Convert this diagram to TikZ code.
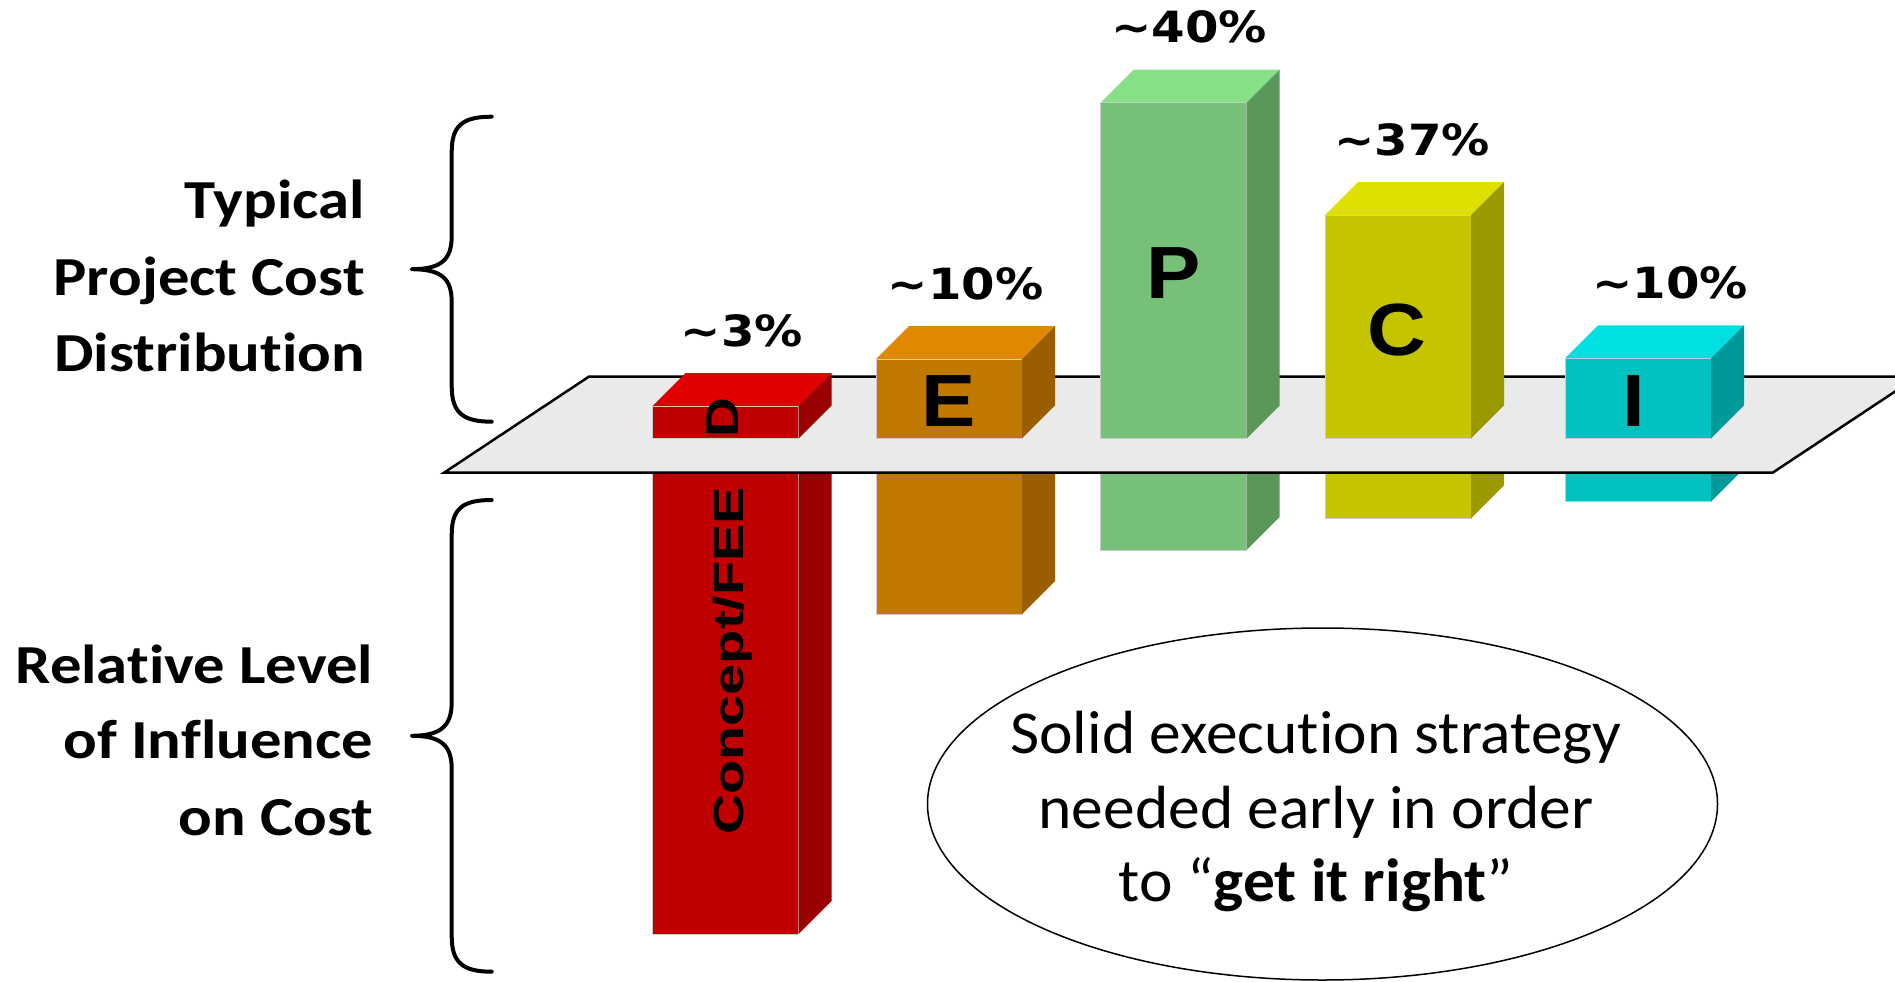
\documentclass[tikz,border=0pt]{standalone}
\usepackage{fontspec}
\usepackage{graphicx}
\usetikzlibrary{shapes.geometric}
\setmainfont{Carlito}[Ligatures=NoCommon]
\newfontfamily\arialf{Liberation Sans}
\newfontfamily\dejaf{DejaVu Sans}
\definecolor{planegray}{HTML}{EAEAEA}
\definecolor{dtop}{HTML}{E00000}\definecolor{dfront}{HTML}{C00000}\definecolor{dside}{HTML}{990000}
\definecolor{etop}{HTML}{E08800}\definecolor{efront}{HTML}{C07800}\definecolor{eside}{HTML}{9A5E00}
\definecolor{ptop}{HTML}{86E086}\definecolor{pfront}{HTML}{77C077}\definecolor{pside}{HTML}{5A985A}
\definecolor{ctop}{HTML}{E0E000}\definecolor{cfront}{HTML}{C4C400}\definecolor{cside}{HTML}{9A9A00}
\definecolor{itop}{HTML}{00E0E0}\definecolor{ifront}{HTML}{00C0C0}\definecolor{iside}{HTML}{009999}
\newcommand{\upperbox}[5]{%
  \fill[#3] (#1,#2) -- (#1+33,#2-33) -- (#1+179,#2-33) -- (#1+146,#2) -- cycle;
  \filldraw[fill=#4, draw=black!20, line width=0.8] (#1,#2) rectangle (#1+146,438.3);
  \fill[#5] (#1+146,#2) -- (#1+179,#2-33) -- (#1+179,405.3) -- (#1+146,438.3) -- cycle;
}
\newcommand{\lowerbox}[4]{%
  \filldraw[fill=#3, draw=black!20, line width=0.8] (#1,450) rectangle (#1+146,#2);
  \fill[#4] (#1+146,450) -- (#1+179,450) -- (#1+179,#2-33) -- (#1+146,#2) -- cycle;
}
\tikzset{
  pct/.style={anchor=base, inner sep=0, font=\dejaf\bfseries\fontsize{43}{50}\selectfont},
  barletter/.style={anchor=center, inner sep=0, font=\arialf\bfseries\fontsize{74}{80}\selectfont},
  sidelabel/.style={anchor=base east, inner sep=0, font=\bfseries\fontsize{55}{77}\selectfont},
  ovaltext/.style={anchor=base, inner sep=0, font=\fontsize{61}{74}\selectfont},
  bracestyle/.style={draw=black, line width=4, line cap=round, line join=round},
}
\begin{document}
\begin{tikzpicture}[x=1pt,y=-1pt]
\useasboundingbox (0,0) rectangle (1895,982);
\clip (0,0) rectangle (1895,982);
% lower parts
\lowerbox{652.7}{934}{dfront}{dside}
\lowerbox{876}{614}{efront}{eside}
\lowerbox{1100.7}{550}{pfront}{pside}
\lowerbox{1325}{518.3}{cfront}{cside}
\lowerbox{1565}{501.7}{ifront}{iside}
% plane
\filldraw[fill=planegray, draw=black, line width=2.5] (588.8,376.7) -- (444,472.7) -- (1772.6,472.7) -- (1917.4,376.7) -- cycle;
% upper parts
\upperbox{652.7}{406}{dtop}{dfront}{dside}
\upperbox{876}{359}{etop}{efront}{eside}
\upperbox{1100.7}{102.7}{ptop}{pfront}{pside}
\upperbox{1325}{215}{ctop}{cfront}{cside}
\upperbox{1565}{358.3}{itop}{ifront}{iside}
% bar letters
\node[rotate=90, anchor=base west, inner sep=0, font=\arialf\bfseries\fontsize{42}{48}\selectfont] (concept) at (743.3,835) {\scalebox{1.33}[1]{Concept/FEE}};
\node[rotate=90, anchor=base west, inner sep=0, font=\arialf\bfseries\fontsize{46}{50}\selectfont] (dletter) at (738,438) {\scalebox{1.2}[1]{D}};
\node[barletter] (eletter) at (949,401) {\scalebox{1.1}[1]{E}};
\node[barletter] (pletter) at (1173.7,273) {\scalebox{1.1}[1]{P}};
\node[barletter] (cletter) at (1397,330) {\scalebox{1.1}[1]{C}};
\node[barletter] (iletter) at (1634,401) {\scalebox{1.1}[1]{I}};
% percentages
\node[pct] (pd) at (742,346) {\scalebox{1.12}[1]{\textasciitilde3\%}};
\node[pct] (pe) at (965.6,299) {\scalebox{1.12}[1]{\textasciitilde10\%}};
\node[pct] (pp) at (1189,43) {\scalebox{1.12}[1]{\textasciitilde40\%}};
\node[pct] (pc) at (1412,155) {\scalebox{1.12}[1]{\textasciitilde37\%}};
\node[pct] (pi) at (1670,298.3) {\scalebox{1.12}[1]{\textasciitilde10\%}};
% side labels
\node[sidelabel] (t1) at (365,218.3) {\scalebox{1.14}[1]{Typical}};
\node[sidelabel] (t2) at (365,295) {\scalebox{1.14}[1]{Project Cost}};
\node[sidelabel] (t3) at (365,371.7) {\scalebox{1.14}[1]{Distribution}};
\node[sidelabel] (r1) at (373.3,683.3) {\scalebox{1.14}[1]{Relative Level}};
\node[sidelabel] (r2) at (373.3,758.3) {\scalebox{1.14}[1]{of Influence}};
\node[sidelabel] (r3) at (373.3,835) {\scalebox{1.14}[1]{on Cost}};
% braces
\draw[bracestyle] (491.7,116.7) .. controls (462,116.7) and (451.7,126) .. (451.7,152) -- (451.7,236) .. controls (451.7,259) and (442,269.2) .. (411.7,269.2) .. controls (442,269.2) and (451.7,279) .. (451.7,302) -- (451.7,386) .. controls (451.7,412) and (462,421.7) .. (491.7,421.7);
\draw[bracestyle] (491.7,500) .. controls (462,500) and (451.7,509) .. (451.7,535) -- (451.7,702) .. controls (451.7,725) and (442,735.8) .. (411.7,735.8) .. controls (442,735.8) and (451.7,746) .. (451.7,769) -- (451.7,936) .. controls (451.7,962) and (462,971.7) .. (491.7,971.7);
% ellipse
\node[draw=black, fill=white, line width=1.5, ellipse, minimum width=790, minimum height=352, inner sep=0] (oval) at (1322.5,804) {};
\node[ovaltext] (l1) at (1316,753.3) {\scalebox{1.04}[1]{Solid execution strategy}};
\node[ovaltext] (l2) at (1316,828.3) {\scalebox{1.04}[1]{needed early in order}};
\node[ovaltext] (l3) at (1316,901.7) {\scalebox{1.04}[1]{to “\textbf{get it right}”}};
\end{tikzpicture}
\end{document}
